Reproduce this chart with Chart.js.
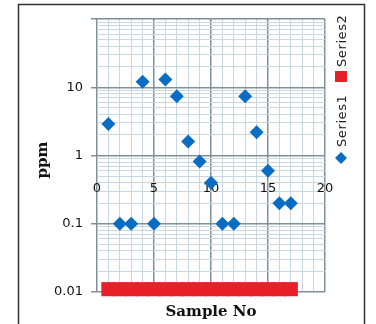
<!DOCTYPE html>
<html>
<head>
<meta charset="utf-8">
<script src="https://cdn.jsdelivr.net/npm/chart.js@4/dist/chart.umd.min.js"></script>
<style>
  html, body { margin: 0; padding: 0; background: #fff; }
  #wrap { position: relative; width: 376px; height: 324px; }
</style>
</head>
<body>
<div id="wrap"><canvas id="chart" width="376" height="324"></canvas></div>
<script>
// sample numbers and readings (ppm, log scale)
const sampleNo = [1, 2, 3, 4, 5, 6, 7, 8, 9, 10, 11, 12, 13, 14, 15, 16, 17];
const series1 = [2.9, 0.1, 0.1, 12, 0.1, 13, 7.4, 1.6, 0.82, 0.4, 0.1, 0.1, 7.4, 2.2, 0.6, 0.2, 0.2];
const series2 = [0.011, 0.011, 0.011, 0.011, 0.011, 0.011, 0.011, 0.011, 0.011, 0.011, 0.011, 0.011, 0.011, 0.011, 0.011, 0.011, 0.011];
const yLabels = [0.01, 0.1, 1, 10];
const xLabels = [0, 5, 10, 15, 20];

const majorGrid = '#7f9196';
const minorGrid = '#c9d8e0';

function isDecade(v) {
    const l = Math.log10(v);
    return Math.abs(l - Math.round(l)) < 1e-9;
}

const decor = {
    id: 'decor',
    afterDraw(chart) {
        const ctx = chart.ctx;
        ctx.save();
        // outer frame
        ctx.strokeStyle = '#333';
        ctx.lineWidth = 1.5;
        ctx.strokeRect(18.5, 4.5, 346, 340);

        ctx.fillStyle = '#111';
        ctx.font = 'bold 15px "DejaVu Serif", serif';
        ctx.textAlign = 'center';
        ctx.textBaseline = 'middle';
        ctx.fillText('Sample No', 211, 312);

        ctx.translate(43, 160);
        ctx.rotate(-Math.PI / 2);
        ctx.fillText('ppm', 0, 0);
        ctx.restore();

        // legend, rotated, reads bottom to top
        ctx.save();
        ctx.translate(343, 164);
        ctx.rotate(-Math.PI / 2);
        ctx.font = '13px "DejaVu Sans", sans-serif';
        ctx.letterSpacing = '0.6px';
        ctx.textBaseline = 'middle';
        ctx.textAlign = 'left';
        ctx.fillStyle = '#0a6cc2';
        ctx.beginPath();
        ctx.moveTo(0, -2); ctx.lineTo(6, 4); ctx.lineTo(12, -2); ctx.lineTo(6, -8);
        ctx.closePath();
        ctx.fill();
        ctx.fillStyle = '#222';
        ctx.fillText('Series1', 17, 0);
        ctx.fillStyle = '#e8202a';
        ctx.fillRect(82, -8, 11, 12);
        ctx.fillStyle = '#222';
        ctx.fillText('Series2', 97, 0);
        ctx.restore();
    }
};

new Chart(document.getElementById('chart'), {
    type: 'scatter',
    data: {
        datasets: [{
            label: 'Series2',
            data: sampleNo.map((x, i) => ({ x: x, y: series2[i] })),
            pointStyle: 'rect',
            pointRadius: 10,
            pointHoverRadius: 10,
            backgroundColor: '#e8202a',
            borderWidth: 0,
            clip: false
        }, {
            label: 'Series1',
            data: sampleNo.map((x, i) => ({ x: x, y: series1[i] })),
            pointStyle: 'rectRot',
            pointRadius: 7,
            pointHoverRadius: 7,
            backgroundColor: '#0a6cc2',
            borderWidth: 0,
            clip: false
        }]
    },
    options: {
        responsive: false,
        animation: false,
        events: [],
        layout: { padding: { left: 0, top: 19, right: 51, bottom: 32 } },
        plugins: { legend: { display: false }, tooltip: { enabled: false } },
        scales: {
            x: {
                type: 'linear',
                min: 0,
                max: 20,
                position: { y: 1 },
                border: { display: false },
                afterBuildTicks(scale) {
                    const t = [];
                    for (let v = 0; v <= 20; v++) t.push({ value: v });
                    scale.ticks = t;
                },
                grid: {
                    drawTicks: false,
                    color: ctx => (ctx.tick && ctx.tick.value % 5 === 0) ? majorGrid : minorGrid,
                    lineWidth: ctx => (ctx.tick && ctx.tick.value % 5 === 0) ? 1.5 : 1
                },
                ticks: {
                    autoSkip: false,
                    maxRotation: 0,
                    padding: 25,
                    color: '#111',
                    font: { family: 'DejaVu Sans', size: 13 },
                    callback: v => xLabels.includes(v) ? String(v) : ''
                }
            },
            y: {
                type: 'logarithmic',
                min: 0.01,
                max: 100,
                border: { display: false },
                afterBuildTicks(scale) {
                    const t = [];
                    for (let e = -2; e < 2; e++) {
                        for (let m = 1; m <= 9; m++) t.push({ value: m * Math.pow(10, e) });
                    }
                    t.push({ value: 100 });
                    scale.ticks = t;
                },
                afterFit(scale) { scale.width = 97; },
                grid: {
                    tickLength: 6,
                    color: ctx => (ctx.tick && isDecade(ctx.tick.value)) ? majorGrid : minorGrid,
                    tickColor: ctx => (ctx.tick && isDecade(ctx.tick.value)) ? majorGrid : 'rgba(0,0,0,0)',
                    lineWidth: ctx => (ctx.tick && isDecade(ctx.tick.value)) ? 1.5 : 1
                },
                ticks: {
                    autoSkip: false,
                    padding: 8,
                    color: '#111',
                    font: { family: 'DejaVu Sans', size: 13 },
                    callback: v => yLabels.some(l => Math.abs(l - v) < 1e-9) ? String(v) : ''
                }
            }
        }
    },
    plugins: [decor]
});
</script>
</body>
</html>
